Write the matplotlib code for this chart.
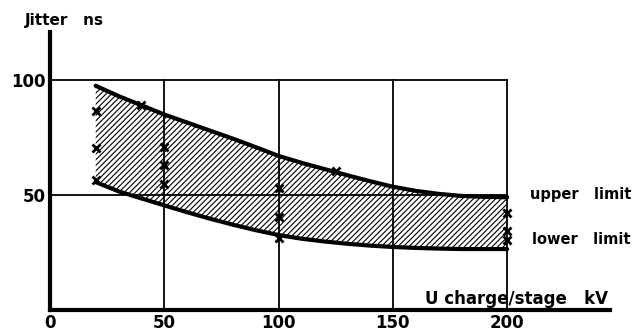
import numpy as np
import matplotlib
matplotlib.use("Agg")
import matplotlib.pyplot as plt

# boundary curves (kV, ns)
upper_kv = [20, 30, 40, 50, 60, 70, 80, 90, 100, 110, 120, 130, 140, 150, 160, 170, 180, 190, 200]
upper_ns = [97.5, 93, 89, 85, 81.5, 78, 74.5, 70.8, 67, 64, 61.3, 58.6, 56, 53.6, 51.8, 50.5, 49.6, 49.2, 49]
lower_kv = [20, 30, 40, 50, 60, 70, 80, 90, 100, 110, 120, 130, 140, 150, 160, 170, 180, 200]
lower_ns = [55.6, 51.6, 48.5, 45.5, 42.5, 39.7, 37.1, 34.7, 32.6, 31, 29.8, 28.8, 28, 27.4, 27, 26.7, 26.5, 26.5]

# measured points
meas_kv = [20, 20, 20, 40, 50, 50, 50, 100, 100, 100, 125, 200, 200, 200]
meas_ns = [86.7, 70.4, 56.5, 89, 71, 63, 54.8, 53, 40.4, 31.3, 60.4, 42.3, 34.5, 30.4]

grid_x = [50, 100, 150, 200]
grid_y = [50, 100]
xticks = [0, 50, 100, 150, 200]
yticks = [50, 100]

plt.rcParams['hatch.linewidth'] = 0.8

fig = plt.figure(figsize=(6.35, 3.32), dpi=100)
ax = fig.add_axes([50/635, 22/332, 560/635, 278.3/332])
ax.set_xlim(0, 245)
ax.set_ylim(0, 121)

for s in ['top', 'right']:
    ax.spines[s].set_visible(False)
ax.spines['left'].set_linewidth(3)
ax.spines['bottom'].set_linewidth(3)

for gx in grid_x:
    ax.plot([gx, gx], [0, 100], color='black', lw=1.3, zorder=1)
for gy in grid_y:
    ax.plot([0, 200], [gy, gy], color='black', lw=1.3, zorder=1)

# hatched band between the limits
xx = np.linspace(20, 200, 300)
up = np.interp(xx, upper_kv, upper_ns)
lo = np.interp(xx, lower_kv, lower_ns)
ax.fill_between(xx, lo, up, facecolor='none', edgecolor='black', hatch='//////', lw=0, zorder=2)

ax.plot(upper_kv, upper_ns, color='black', lw=3, solid_capstyle='round', solid_joinstyle='round', zorder=3)
ax.plot(lower_kv, lower_ns, color='black', lw=3, solid_capstyle='round', solid_joinstyle='round', zorder=3)
ax.plot(meas_kv, meas_ns, 'x', color='black', ms=6, mew=2, zorder=4)

ax.set_xticks(xticks)
ax.set_xticklabels([str(t) for t in xticks], fontsize=12, fontweight='bold')
ax.set_yticks(yticks)
ax.set_yticklabels([str(t) for t in yticks], fontsize=12, fontweight='bold')
ax.tick_params(length=0, pad=3)

ax.text(-11, 126, 'Jitter   ns', fontsize=11, fontweight='bold', ha='left', va='center', clip_on=False)
ax.text(244, 5, 'U charge/stage   kV', fontsize=12, fontweight='bold', ha='right', va='center')
ax.text(210, 50, 'upper   limit', fontsize=10.5, fontweight='bold', ha='left', va='center', clip_on=False)
ax.text(211, 30.5, 'lower   limit', fontsize=10.5, fontweight='bold', ha='left', va='center', clip_on=False)

fig.savefig('out.png', dpi=100)
